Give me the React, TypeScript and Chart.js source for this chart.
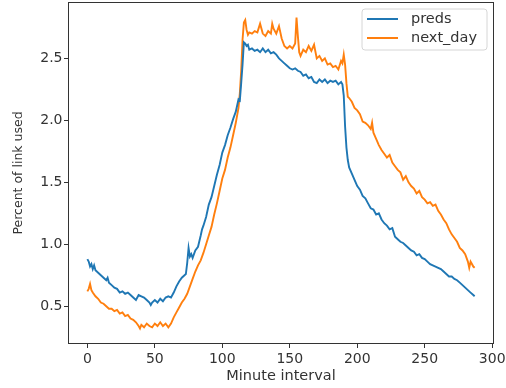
import React, { useEffect, useRef } from "react";
import { Chart, registerables } from "chart.js";
Chart.register(...registerables);

const seriesLabels = ["preds", "next_day"];
const seriesColors = ["#1f77b4", "#ff7f0e"];

const predsX = [0,1,2,3,4,5,6,8,10,12,14,15,16,18,20,22,24,26,28,30,32,34,36,38,40,42,44,46,47,48,50,52,54,56,58,60,62,64,66,68,70,72,73,74,75,76,77,78,80,82,84,85,86,88,90,92,94,96,98,100,102,104,106,108,110,112,113,114,115,116,117,118,119,120,122,124,126,128,130,132,134,136,138,140,142,144,146,148,150,152,154,156,158,160,162,164,166,168,170,172,174,176,178,180,182,184,186,188,189,190,191,192,193,194,196,198,200,202,204,206,208,210,212,214,216,218,220,222,224,226,228,230,232,234,236,238,240,242,244,246,248,250,252,254,256,258,260,262,264,266,268,270,272,274,276,278,280,282,284,286,287];
const predsY = [0.88,0.86,0.82,0.84,0.8,0.83,0.79,0.77,0.75,0.73,0.71,0.73,0.69,0.67,0.65,0.64,0.61,0.62,0.6,0.61,0.59,0.57,0.55,0.59,0.58,0.57,0.55,0.53,0.51,0.53,0.55,0.53,0.56,0.54,0.57,0.58,0.57,0.61,0.66,0.7,0.73,0.75,0.76,0.85,0.97,0.9,0.92,0.89,0.95,0.98,1.07,1.12,1.15,1.22,1.32,1.38,1.47,1.56,1.64,1.74,1.8,1.88,1.94,2.01,2.07,2.17,2.16,2.3,2.45,2.63,2.62,2.6,2.61,2.57,2.58,2.56,2.57,2.55,2.58,2.55,2.57,2.54,2.55,2.53,2.5,2.48,2.46,2.44,2.42,2.41,2.42,2.4,2.39,2.36,2.37,2.34,2.35,2.31,2.3,2.33,2.31,2.33,2.3,2.32,2.31,2.32,2.29,2.31,2.29,2.2,1.95,1.78,1.68,1.62,1.57,1.52,1.47,1.44,1.39,1.37,1.33,1.29,1.28,1.24,1.25,1.2,1.17,1.15,1.12,1.13,1.06,1.04,1.02,1.01,0.99,0.97,0.95,0.94,0.91,0.92,0.89,0.88,0.86,0.84,0.83,0.82,0.81,0.8,0.78,0.76,0.74,0.74,0.72,0.71,0.69,0.67,0.65,0.63,0.61,0.59,0.58];

const nextX = [0,1,2,3,4,6,8,10,12,14,16,18,20,22,24,26,28,30,32,34,36,38,39,40,42,44,46,48,50,52,54,56,58,60,62,64,66,68,70,72,74,76,78,80,82,84,86,88,90,92,94,96,98,100,102,104,106,108,110,112,113,114,115,116,117,118,119,120,122,124,126,128,130,132,134,136,137,138,140,142,144,146,148,150,152,154,155,156,157,158,160,162,164,166,168,170,172,174,176,178,180,182,184,186,188,189,190,191,192,193,194,196,198,200,202,204,206,208,210,211,212,214,216,218,220,222,224,226,228,230,232,234,236,238,240,242,244,246,248,250,252,254,256,258,260,262,264,266,268,270,272,274,276,278,280,282,283,284,285,286,287];
const nextY = [0.62,0.64,0.68,0.63,0.61,0.58,0.56,0.53,0.52,0.5,0.48,0.48,0.46,0.47,0.44,0.45,0.42,0.43,0.4,0.39,0.37,0.34,0.32,0.35,0.33,0.36,0.34,0.33,0.36,0.34,0.37,0.34,0.36,0.33,0.36,0.41,0.45,0.49,0.53,0.56,0.6,0.66,0.72,0.78,0.83,0.87,0.93,1.0,1.07,1.14,1.24,1.33,1.43,1.53,1.6,1.7,1.78,1.88,1.98,2.1,2.22,2.4,2.65,2.79,2.81,2.73,2.69,2.71,2.7,2.72,2.71,2.78,2.7,2.68,2.72,2.7,2.78,2.74,2.7,2.76,2.66,2.6,2.58,2.6,2.58,2.62,2.83,2.68,2.55,2.52,2.57,2.55,2.6,2.56,2.61,2.5,2.52,2.48,2.5,2.45,2.46,2.43,2.44,2.41,2.48,2.46,2.53,2.45,2.3,2.19,2.18,2.15,2.1,2.08,2.05,1.99,1.98,1.96,1.93,1.98,1.9,1.85,1.8,1.76,1.73,1.7,1.72,1.66,1.63,1.6,1.58,1.52,1.55,1.5,1.47,1.45,1.41,1.43,1.38,1.36,1.33,1.34,1.31,1.32,1.27,1.24,1.2,1.17,1.12,1.08,1.05,1.02,0.97,0.95,0.92,0.86,0.81,0.86,0.84,0.82,0.81];

const xTicks = [0, 50, 100, 150, 200, 250, 300];
const yTicks = [0.5, 1.0, 1.5, 2.0, 2.5];
const xTitle = "Minute interval";
const yTitle = "Percent of link used";

const FONT = "'DejaVu Sans', sans-serif";
const TEXT = "#333333";

export default function App() {
  const ref = useRef<HTMLCanvasElement>(null);
  useEffect(() => {
    document.body.style.margin = "0";
    const canvas = ref.current!;
    const framePlugin = {
      id: "frame",
      afterDraw(chart: any) {
        const { ctx, chartArea: a } = chart;
        ctx.save();
        ctx.strokeStyle = "#333333";
        ctx.lineWidth = 1;
        const l = Math.round(a.left) + 0.5, t = Math.round(a.top) + 0.5;
        const r = Math.round(a.right) - 0.5, b = Math.round(a.bottom) - 0.5;
        ctx.strokeRect(l, t, r - l, b - t);
        // legend
        const lx = 362, ly = 9, lw = 125, lh = 41, rad = 3;
        ctx.beginPath();
        ctx.moveTo(lx + rad, ly);
        ctx.arcTo(lx + lw, ly, lx + lw, ly + lh, rad);
        ctx.arcTo(lx + lw, ly + lh, lx, ly + lh, rad);
        ctx.arcTo(lx, ly + lh, lx, ly, rad);
        ctx.arcTo(lx, ly, lx + lw, ly, rad);
        ctx.closePath();
        ctx.fillStyle = "rgba(255,255,255,0.85)";
        ctx.fill();
        ctx.strokeStyle = "#d6d6d6";
        ctx.lineWidth = 1;
        ctx.stroke();
        ctx.font = `14.5px ${FONT}`;
        ctx.textBaseline = "middle";
        ctx.textAlign = "left";
        seriesLabels.forEach((lab, i) => {
          const y = 19 + i * 19;
          ctx.strokeStyle = seriesColors[i];
          ctx.lineWidth = 2;
          ctx.beginPath();
          ctx.moveTo(367, y);
          ctx.lineTo(398, y);
          ctx.stroke();
          ctx.fillStyle = TEXT;
          ctx.fillText(lab, 411, y);
        });
        ctx.restore();
      },
    };
    const chart = new Chart(canvas, {
      type: "line",
      data: {
        datasets: [
          {
            label: seriesLabels[0],
            data: predsX.map((x, i) => ({ x, y: predsY[i] })),
            borderColor: seriesColors[0],
            backgroundColor: seriesColors[0],
            borderWidth: 1.9,
            pointRadius: 0,
            tension: 0,
            fill: false,
          },
          {
            label: seriesLabels[1],
            data: nextX.map((x, i) => ({ x, y: nextY[i] })),
            borderColor: seriesColors[1],
            backgroundColor: seriesColors[1],
            borderWidth: 1.9,
            pointRadius: 0,
            tension: 0,
            fill: false,
          },
        ],
      },
      options: {
        animation: false,
        responsive: false,
        devicePixelRatio: 1,
        layout: { padding: { top: 2, right: 12, left: 0, bottom: 0 } },
        plugins: { legend: { display: false }, tooltip: { enabled: false } },
        scales: {
          x: {
            type: "linear",
            min: -14.35,
            max: 301.35,
            afterBuildTicks: (s: any) => {
              s.ticks = xTicks.map((v) => ({ value: v }));
            },
            afterFit: (s: any) => {
              s.height = 44;
              s.paddingLeft = 0;
              s.paddingRight = 0;
            },
            ticks: {
              color: TEXT,
              font: { family: FONT, size: 14 },
              padding: 3,
              maxRotation: 0,
              autoSkip: false,
              callback: (v: any) => String(v),
            },
            grid: {
              display: true,
              drawOnChartArea: false,
              drawTicks: true,
              tickLength: 4,
              tickColor: "#333333",
              tickWidth: 1,
            },
            border: { display: false },
            title: {
              display: true,
              text: xTitle,
              color: TEXT,
              font: { family: FONT, size: 14.5 },
              padding: { top: 0, bottom: 3.3 },
            },
          },
          y: {
            type: "linear",
            min: 0.195,
            max: 2.955,
            afterBuildTicks: (s: any) => {
              s.ticks = yTicks.map((v) => ({ value: v }));
            },
            afterFit: (s: any) => {
              s.width = 68;
              s.paddingTop = 0;
              s.paddingBottom = 0;
            },
            ticks: {
              color: TEXT,
              font: { family: FONT, size: 14 },
              padding: 1.5,
              autoSkip: false,
              callback: (v: any) => Number(v).toFixed(1),
            },
            grid: {
              display: true,
              drawOnChartArea: false,
              drawTicks: true,
              tickLength: 4,
              tickColor: "#333333",
              tickWidth: 1,
            },
            border: { display: false },
            title: {
              display: true,
              text: yTitle,
              color: TEXT,
              font: { family: FONT, size: 12.5 },
              padding: { top: 11.5, bottom: 0 },
            },
          },
        },
      },
      plugins: [framePlugin],
    });
    return () => chart.destroy();
  }, []);
  return (
    <div style={{ position: "absolute", left: 0, top: 0, width: 506, height: 388, background: "#fff" }}>
      <canvas ref={ref} width={506} height={388} style={{ width: 506, height: 388 }} />
    </div>
  );
}
